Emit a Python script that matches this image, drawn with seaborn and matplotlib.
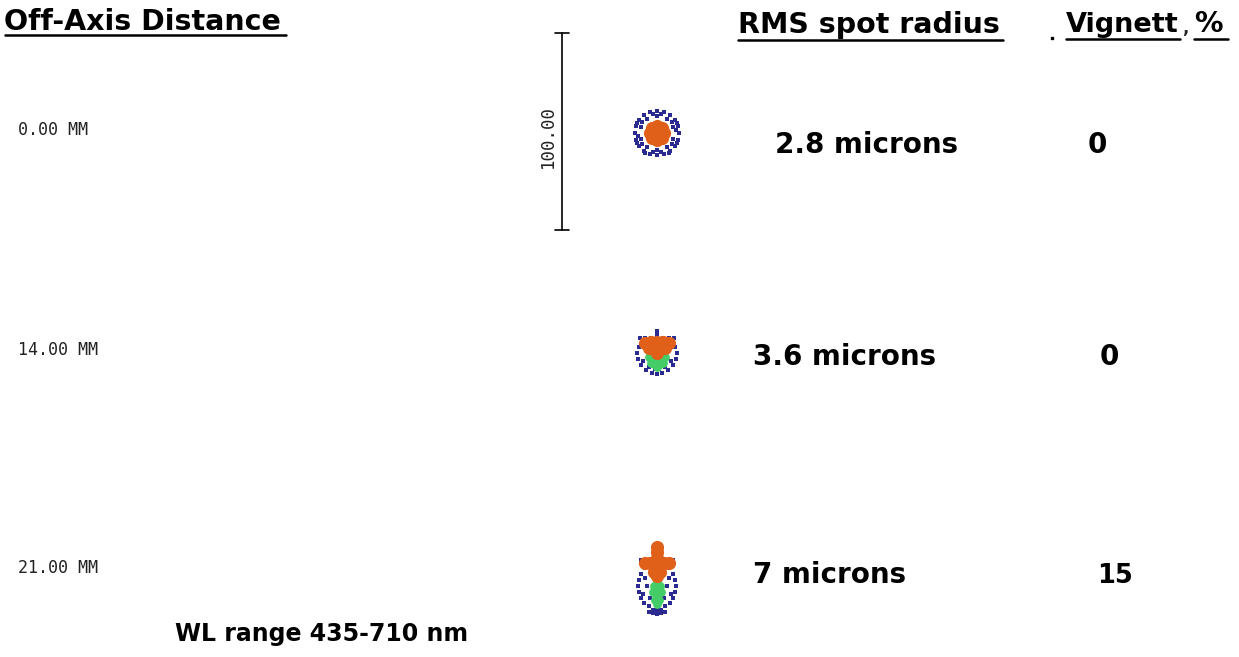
import matplotlib
matplotlib.use("Agg")
import matplotlib.pyplot as plt
import numpy as np
import pandas as pd
import seaborn as sns

sns.set_theme(style="white")
plt.rcParams["font.family"] = ["DejaVu Sans"]

# --- data ---
field_labels = ["0.00 MM", "14.00 MM", "21.00 MM"]
rms_radius = ["2.8 microns", "3.6 microns", "7 microns"]
vignetting = ["0", "0", "15"]
scale_bar_um = 100.0
scale_bar_label = "100.00"
wl_note = "WL range 435-710 nm"

# ray intercepts in microns, relative to the chief ray (x right, y up)
f1_blue_x = [0, 3.5, 6.5, 9, 10.5, 11, 10.5, 9, 6.5, 3.5, 0, -3.5, -6.5, -9, -10.5, -11, -10.5, -9, -6.5, -3.5,
             0, 5, 8, 8, 5, 0, -5, -8, -8, -5, 2, -2, 9.5, -9.5, 2, -2, 7.5, -7.5, 7.5, -7.5,
             -10, 10, -10, 10, -6, 6]
f1_blue_y = [11, 10.5, 9, 6.5, 3.5, 0, -3.5, -6.5, -9, -10.5, -11, -10.5, -9, -6.5, -3.5, 0, 3.5, 6.5, 9, 10.5,
             8.5, 7, 3, -3, -7, -8.5, -7, -3, 3, 7, 9.5, 9.5, 1.5, -1.5, -9.5, -9.5, -5.5, -5.5, 5.5, 5.5,
             5, 5, -5, -5, -10, -10]
f1_orange_x = [0, 2.3, -2.3, 2.3, -2.3, 0, 0, 3.3, -3.3]
f1_orange_y = [0, 2.3, 2.3, -2.3, -2.3, 3.3, -3.3, 0, 0]

f2_blue_x = [0, -8.5, -6, -3, 0, 3, 6, 8.5, -10, -9.5, -8, -5.5, -2.5, 0, 2.5, 5.5, 8, 9.5, 10,
             -7, -4, 4, 7, -9, 9, -6, 6, -3, 3, -1, 1, 0, 0]
f2_blue_y = [10, 7.5, 7.5, 7.5, 7.5, 7.5, 7.5, 7.5, 0, -3, -6, -8.5, -10, -10.5, -10, -8.5, -6, -3, 0,
             -4, -7, -7, -4, 3, 3, 5, 5, -2, -2, -8, -8, 9, 11]
f2_green_x = [0, -2.5, 2.5, -4, 4, -1.5, 1.5, 0, -3, 3]
f2_green_y = [-3, -3, -3, -2, -2, -5.5, -5.5, -7, -5, -5]
f2_orange_x = [0, -3, 3, -6, 6, -1.5, 1.5, -4, 4, 0]
f2_orange_y = [5.5, 5.5, 5.5, 5, 5, 2.5, 2.5, 2.5, 2.5, 0]

f3_blue_x = [-6, 6, -8, 8, -9, 9, -9.5, 9.5, -9, 9, -8, 8, -6.5, 6.5, -4, 4, -2, 2, -5, 5,
             -7, 7, -6, 6, -3.5, 3.5, -2, 0, 2, -1, 1, -5, 5, -8, 8, -4, 4]
f3_blue_y = [6, 6, 3, 3, 0, 0, -3, -3, -6, -6, -9, -9, -11.5, -11.5, -13, -13, -15, -15, -3, -3,
             -7, -7, 1, 1, -9, -9, -17, -17.5, -17, -15, -15, 9, 9, 10, 10, -16, -16]
f3_green_x = [0, -1.5, 1.5, 0, -2, 2, 0, -1, 1, 0]
f3_green_y = [-1, -3, -3, -5, -6, -6, -8, -10, -10, -12]
f3_orange_x = [0, 0, 0, 0, 0, -3.5, 3.5, -6, 6, 0, -1.5, 1.5]
f3_orange_y = [17, 14, 11, 8, 5, 8.5, 8.5, 8.5, 8.5, 2, 4, 4]

spots = [
    [("blue", f1_blue_x, f1_blue_y), ("orange", f1_orange_x, f1_orange_y)],
    [("blue", f2_blue_x, f2_blue_y), ("green", f2_green_x, f2_green_y), ("orange", f2_orange_x, f2_orange_y)],
    [("blue", f3_blue_x, f3_blue_y), ("green", f3_green_x, f3_green_y), ("orange", f3_orange_x, f3_orange_y)],
]

# --- layout (pixels) ---
W, H = 1239, 657
spot_y = [133, 353, 580]
label_y = [130, 350, 568]
value_y = [143, 355, 573]
spot_x = 657
bar_x, bar_top = 562, 33
px_per_um = 197.0 / scale_bar_um
colours = {"blue": "#2a2a90", "green": "#44cc66", "orange": "#e0601a"}
sizes = {"blue": 6, "green": 40, "orange": 90}

fig = plt.figure(figsize=(W / 100, H / 100), dpi=100)
ax = fig.add_axes([0, 0, 1, 1])

for cy, field in zip(spot_y, spots):
    for name, xs, ys in field:
        df = pd.DataFrame({"x": spot_x + np.array(xs) * px_per_um,
                           "y": cy - np.array(ys) * px_per_um})
        sns.scatterplot(data=df, x="x", y="y", ax=ax, color=colours[name],
                        s=sizes[name], marker="o" if name != "blue" else "s",
                        linewidth=0, legend=False, zorder=3 if name == "orange" else 2)

# scale bar
bar_bottom = bar_top + scale_bar_um * px_per_um
ax.plot([bar_x, bar_x], [bar_top, bar_bottom], color="black", lw=1.2)
for yy in (bar_top, bar_bottom):
    ax.plot([bar_x - 7, bar_x + 7], [yy, yy], color="black", lw=1.2)
ax.text(bar_x - 14, 137, scale_bar_label, rotation=90, ha="center",
        va="center", family="DejaVu Sans Mono", fontsize=12.5, color="#222222")

# headings with underlines
head = dict(fontsize=20.5, fontweight="bold", color="black", va="baseline", ha="left")
ax.text(4, 30, "Off-Axis Distance", **head)
ax.plot([5, 286], [35, 35], color="black", lw=1.8)
ax.text(738, 33, "RMS spot radius", **head)
ax.plot([738, 1003], [40, 40], color="black", lw=1.8)
ax.text(1066, 32, "Vignett", fontsize=19.5, fontweight="bold", color="black", va="baseline", ha="left")
ax.text(1182, 33, ",", fontsize=12, fontweight="bold", va="baseline")
ax.text(1194, 32, "%", **head)
ax.plot([1066, 1180], [39, 39], color="black", lw=1.8)
ax.plot([1194, 1228], [39, 39], color="black", lw=1.8)
ax.plot([1052], [38], marker="s", ms=1.5, color="black")

# rows
val = dict(fontsize=20, fontweight="bold", color="black", va="baseline", ha="left")
rms_x = [775, 753, 753]
vig_x = [1088, 1100, 1097]
vig_size = [20, 20, 18.5]
for ly, vy, lab, rms, vig, rx, vx, vs in zip(label_y, value_y, field_labels, rms_radius,
                                            vignetting, rms_x, vig_x, vig_size):
    ax.text(18, ly, lab, family="DejaVu Sans Mono", fontsize=12, color="#222222",
            va="center", ha="left")
    ax.text(rx, vy + 10, rms, **val)
    ax.text(vx, vy + 10, vig, fontsize=vs, fontweight="bold", color="black", va="baseline", ha="left")

ax.text(175, 641, wl_note, fontsize=17, fontweight="bold", color="black", va="baseline", ha="left")

ax.set_xlim(0, W)
ax.set_ylim(H, 0)
ax.axis("off")
fig.savefig("out.png", dpi=100, facecolor="white")
